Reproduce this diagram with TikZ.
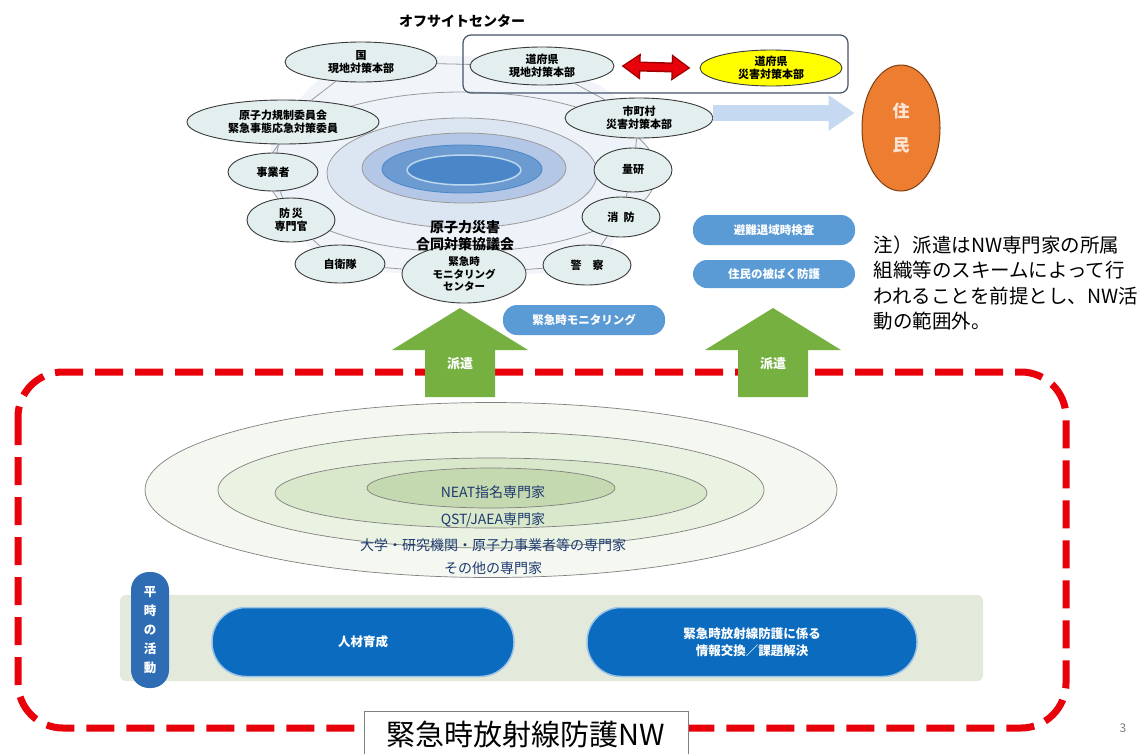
\documentclass[tikz,border=0pt]{standalone}
\usepackage{fontspec}
\setmainfont{Noto Sans CJK JP}
\usetikzlibrary{arrows.meta,shapes.geometric}
\pgfdeclarelayer{background}
\pgfsetlayers{background,main}
\definecolor{orgfill}{HTML}{E2EFEE}
\definecolor{ringdark}{HTML}{3A3A3A}
\definecolor{ringgrey}{HTML}{9A9A9A}
\definecolor{ringpale}{HTML}{F1F5FA}
\definecolor{yfill}{HTML}{FFFF00}
\definecolor{boxgrey}{HTML}{44546A}
\definecolor{pillblue}{HTML}{5B9BD5}
\definecolor{arrowblue}{HTML}{C5D9F1}
\definecolor{jorange}{HTML}{ED7D31}
\definecolor{jbrown}{HTML}{7F3F0F}
\definecolor{jtext}{HTML}{FBE5D6}
\definecolor{eA}{HTML}{EEF3F9}
\definecolor{eB}{HTML}{DCE6F2}
\definecolor{eC}{HTML}{B4C7E7}
\definecolor{eD}{HTML}{6C9BD2}
\definecolor{eE}{HTML}{4A86C8}
\definecolor{eEline}{HTML}{BDD7EE}
\definecolor{parrow}{HTML}{76B041}
\definecolor{nwred}{HTML}{E8000B}
\definecolor{darkred}{HTML}{A00000}
\definecolor{gA}{HTML}{F4F8F0}
\definecolor{gB}{HTML}{EAF2E2}
\definecolor{gC}{HTML}{D9E7CB}
\definecolor{gD}{HTML}{C4D9AF}
\definecolor{gtext}{HTML}{1F3A70}
\definecolor{band}{HTML}{E3EADB}
\definecolor{pilldark}{HTML}{2E6DB4}
\definecolor{bigblue}{HTML}{0B6CBF}
\definecolor{bigline}{HTML}{9DC3E6}
\begin{document}
\begin{tikzpicture}[x=1pt,y=-1pt,
  org/.style={ellipse, draw=ringdark, line width=0.9pt, fill=orgfill, inner sep=0pt,
    align=center, font=\fontsize{11}{13}\selectfont\bfseries, text=black},
  ringline/.style={draw=ringgrey, line width=0.8pt},
  bluepill/.style={rectangle, rounded corners=14pt, fill=pillblue, text=white,
    font=\fontsize{11.5}{13}\selectfont\bfseries, minimum width=162pt, minimum height=30pt, inner sep=0pt},
  expert/.style={ellipse, draw=gray, line width=0.7pt, inner sep=0pt},
  etext/.style={text=gtext, font=\fontsize{14}{15}\selectfont},
  bigpill/.style={rectangle, rounded corners=34pt, fill=bigblue, draw=bigline, line width=1.5pt,
    text=white, align=center, font=\fontsize{12.5}{17}\selectfont\bfseries, minimum height=69pt, inner sep=0pt},
  sendlabel/.style={text=white, font=\fontsize{13}{14}\selectfont\bfseries}
]
\useasboundingbox (0,0) rectangle (1142,753);

% ---- offsite centre ----
\node[font=\fontsize{14}{16}\selectfont\bfseries] (offsite) at (462,21) {オフサイトセンター};

\node[org, minimum width=152pt, minimum height=40pt] (kuni) at (361,62) {国\\現地対策本部};
\node[org, minimum width=144pt, minimum height=38pt] (dogen) at (542,66) {道府県\\現地対策本部};
\node[org, fill=yfill, minimum width=142pt, minimum height=36pt] (dosai) at (771,68) {道府県\\災害対策本部};
\node[org, minimum width=148pt, minimum height=40pt] (shi) at (639,118) {市町村\\災害対策本部};
\node[org, minimum width=192pt, minimum height=44pt] (kisei) at (283,122) {原子力規制委員会\\緊急事態応急対策委員};
\node[org, minimum width=90pt, minimum height=38pt] (jigyo) at (273,172) {事業者};
\node[org, minimum width=88pt, minimum height=44pt] (bosai) at (291,220) {防\,災\\専門官};
\node[org, minimum width=90pt, minimum height=38pt] (jiei) at (340,264) {自衛隊};
\node[org, font=\fontsize{10.5}{12.5}\selectfont\bfseries, minimum width=124pt, minimum height=58pt] (monc) at (464,274) {緊急時\\モニタリング\\センター};
\node[org, minimum width=88pt, minimum height=40pt] (keisatsu) at (587,265) {警\quad 察};
\node[org, minimum width=78pt, minimum height=40pt] (shobo) at (621,217) {消\ \ 防};
\node[org, minimum width=78pt, minimum height=44pt] (ryoken) at (633,170) {量研};

\begin{pgfonlayer}{background}
  \fill[white] (0,0) rectangle (1142,753);
  \fill[ringpale] plot[smooth cycle, tension=0.7] coordinates {(kuni) (dogen) (shi) (ryoken) (shobo) (keisatsu) (monc) (jiei) (bosai) (jigyo) (kisei)};
  \draw[ringgrey, line width=0.8pt, fill=eA] (462,172) ellipse [x radius=195pt, y radius=80pt];
  \draw[ringgrey, line width=0.8pt, fill=eB] (462,173) ellipse [x radius=135pt, y radius=55pt];
  \draw[ringgrey, line width=0.8pt, fill=eC] (464,168) ellipse [x radius=102pt, y radius=35pt];
  \draw[draw=eE, line width=0.8pt, fill=eD] (462,169) ellipse [x radius=80pt, y radius=24pt];
  \draw[draw=eEline, line width=1.5pt, fill=eE] (464,170) ellipse [x radius=57pt, y radius=15pt];
\end{pgfonlayer}

\draw[ringline] (kuni) -- (dogen);
\draw[ringline] (dogen) -- (shi);
\draw[ringline] (shi) -- (ryoken);
\draw[ringline] (ryoken) -- (shobo);
\draw[ringline] (shobo) -- (keisatsu);
\draw[ringline] (keisatsu) -- (monc);
\draw[ringline] (monc) -- (jiei);
\draw[ringline] (jiei) -- (bosai);
\draw[ringline] (bosai) -- (jigyo);
\draw[ringline] (jigyo) -- (kisei);
\draw[ringline] (kisei) -- (kuni);

\node[align=center, font=\fontsize{14}{17}\selectfont\bfseries] (godo) at (465,236) {原子力災害\\合同対策協議会};

\draw[boxgrey, line width=1.2pt, rounded corners=8pt] (463,35) rectangle (848,93);
\draw[darkred, line width=10pt, {Triangle[length=19pt,width=25pt]}-{Triangle[length=19pt,width=25pt]}]
  ([xshift=7pt]dogen.east) -- ([xshift=-9pt]dosai.west);
\draw[nwred, line width=7pt, {Triangle[length=15pt,width=20pt]}-{Triangle[length=15pt,width=20pt]}]
  ([xshift=9.5pt]dogen.east) -- ([xshift=-11.5pt]dosai.west);

\node[ellipse, fill=jorange, draw=jbrown, line width=1pt, minimum width=78pt, minimum height=126pt,
  inner sep=0pt, align=center, text=jtext, font=\fontsize{17}{20}\selectfont\bfseries] (jumin) at (901,128) {住\\[14pt]民};
\draw[arrowblue, line width=16pt, -{Triangle[length=26pt,width=34pt]}, shorten >=7pt]
  ([yshift=5pt]shi.east) -- ([yshift=5pt]shi.east -| jumin.west);

\node[bluepill] (hinan) at (774,230) {避難退域時検査};
\node[bluepill, minimum height=28pt] (hibaku) at (774,274) {住民の被ばく防護};
\node[bluepill] (emon) at (584,320) {緊急時モニタリング};

\node[anchor=west, align=left, font=\fontsize{19.5}{25.5}\selectfont] (note) at (870,283)
  {注）派遣はNW専門家の所属\\組織等のスキームによって行\\われることを前提とし、NW活\\動の範囲外。};

% ---- network box ----
\draw[nwred, line width=7pt, dash pattern=on 28pt off 12pt, rounded corners=45pt] (18,372) rectangle (1066,728);

\fill[parrow] (425,397) -- (425,350) -- (392,350) -- (460,308) -- (528,350) -- (495,350) -- (495,397) -- cycle;
\node[sendlabel] (hakenA) at (460,364) {派遣};
\fill[parrow] (738,397) -- (738,350) -- (705,350) -- (773,308) -- (841,350) -- (808,350) -- (808,397) -- cycle;
\node[sendlabel] (hakenB) at (773,364) {派遣};

\node[expert, fill=gA, minimum width=692pt, minimum height=175pt] (exA) at (491,490) {};
\node[expert, fill=gB, minimum width=546pt, minimum height=116pt] (exB) at (491,490) {};
\node[expert, fill=gC, minimum width=432pt, minimum height=70pt] (exC) at (491,493) {};
\node[expert, fill=gD, minimum width=248pt, minimum height=40pt] (exD) at (491,488) {};
\node[etext] (tNEAT) at (493,492) {NEAT指名専門家};
\node[etext] (tQST) at (493,520) {QST/JAEA専門家};
\node[etext] (tUniv) at (493,545) {大学・研究機関・原子力事業者等の専門家};
\node[etext] (tOther) at (493,568) {その他の専門家};

\fill[band, rounded corners=6pt] (120,595) rectangle (983,681);
\node[rectangle, rounded corners=18pt, fill=pilldark, minimum width=38pt, minimum height=116pt, inner sep=0pt,
  align=center, text=white, font=\fontsize{12.5}{19}\selectfont\bfseries] (heiji) at (150,630) {平\\時\\の\\活\\動};
\node[bigpill, minimum width=302pt] (jinzai) at (363,642) {人材育成};
\node[bigpill, minimum width=330pt] (joho) at (752,642) {緊急時放射線防護に係る\\情報交換／課題解決};

\node[draw=gray, fill=white, line width=0.8pt, minimum width=324pt, minimum height=46pt, inner sep=0pt,
  font=\fontsize{29}{30}\selectfont] (nwtitle) at (526,734) {緊急時放射線防護NW};

\node[text=gray, font=\fontsize{12}{12}\selectfont] (pageno) at (1123,728) {3};
\end{tikzpicture}
\end{document}
